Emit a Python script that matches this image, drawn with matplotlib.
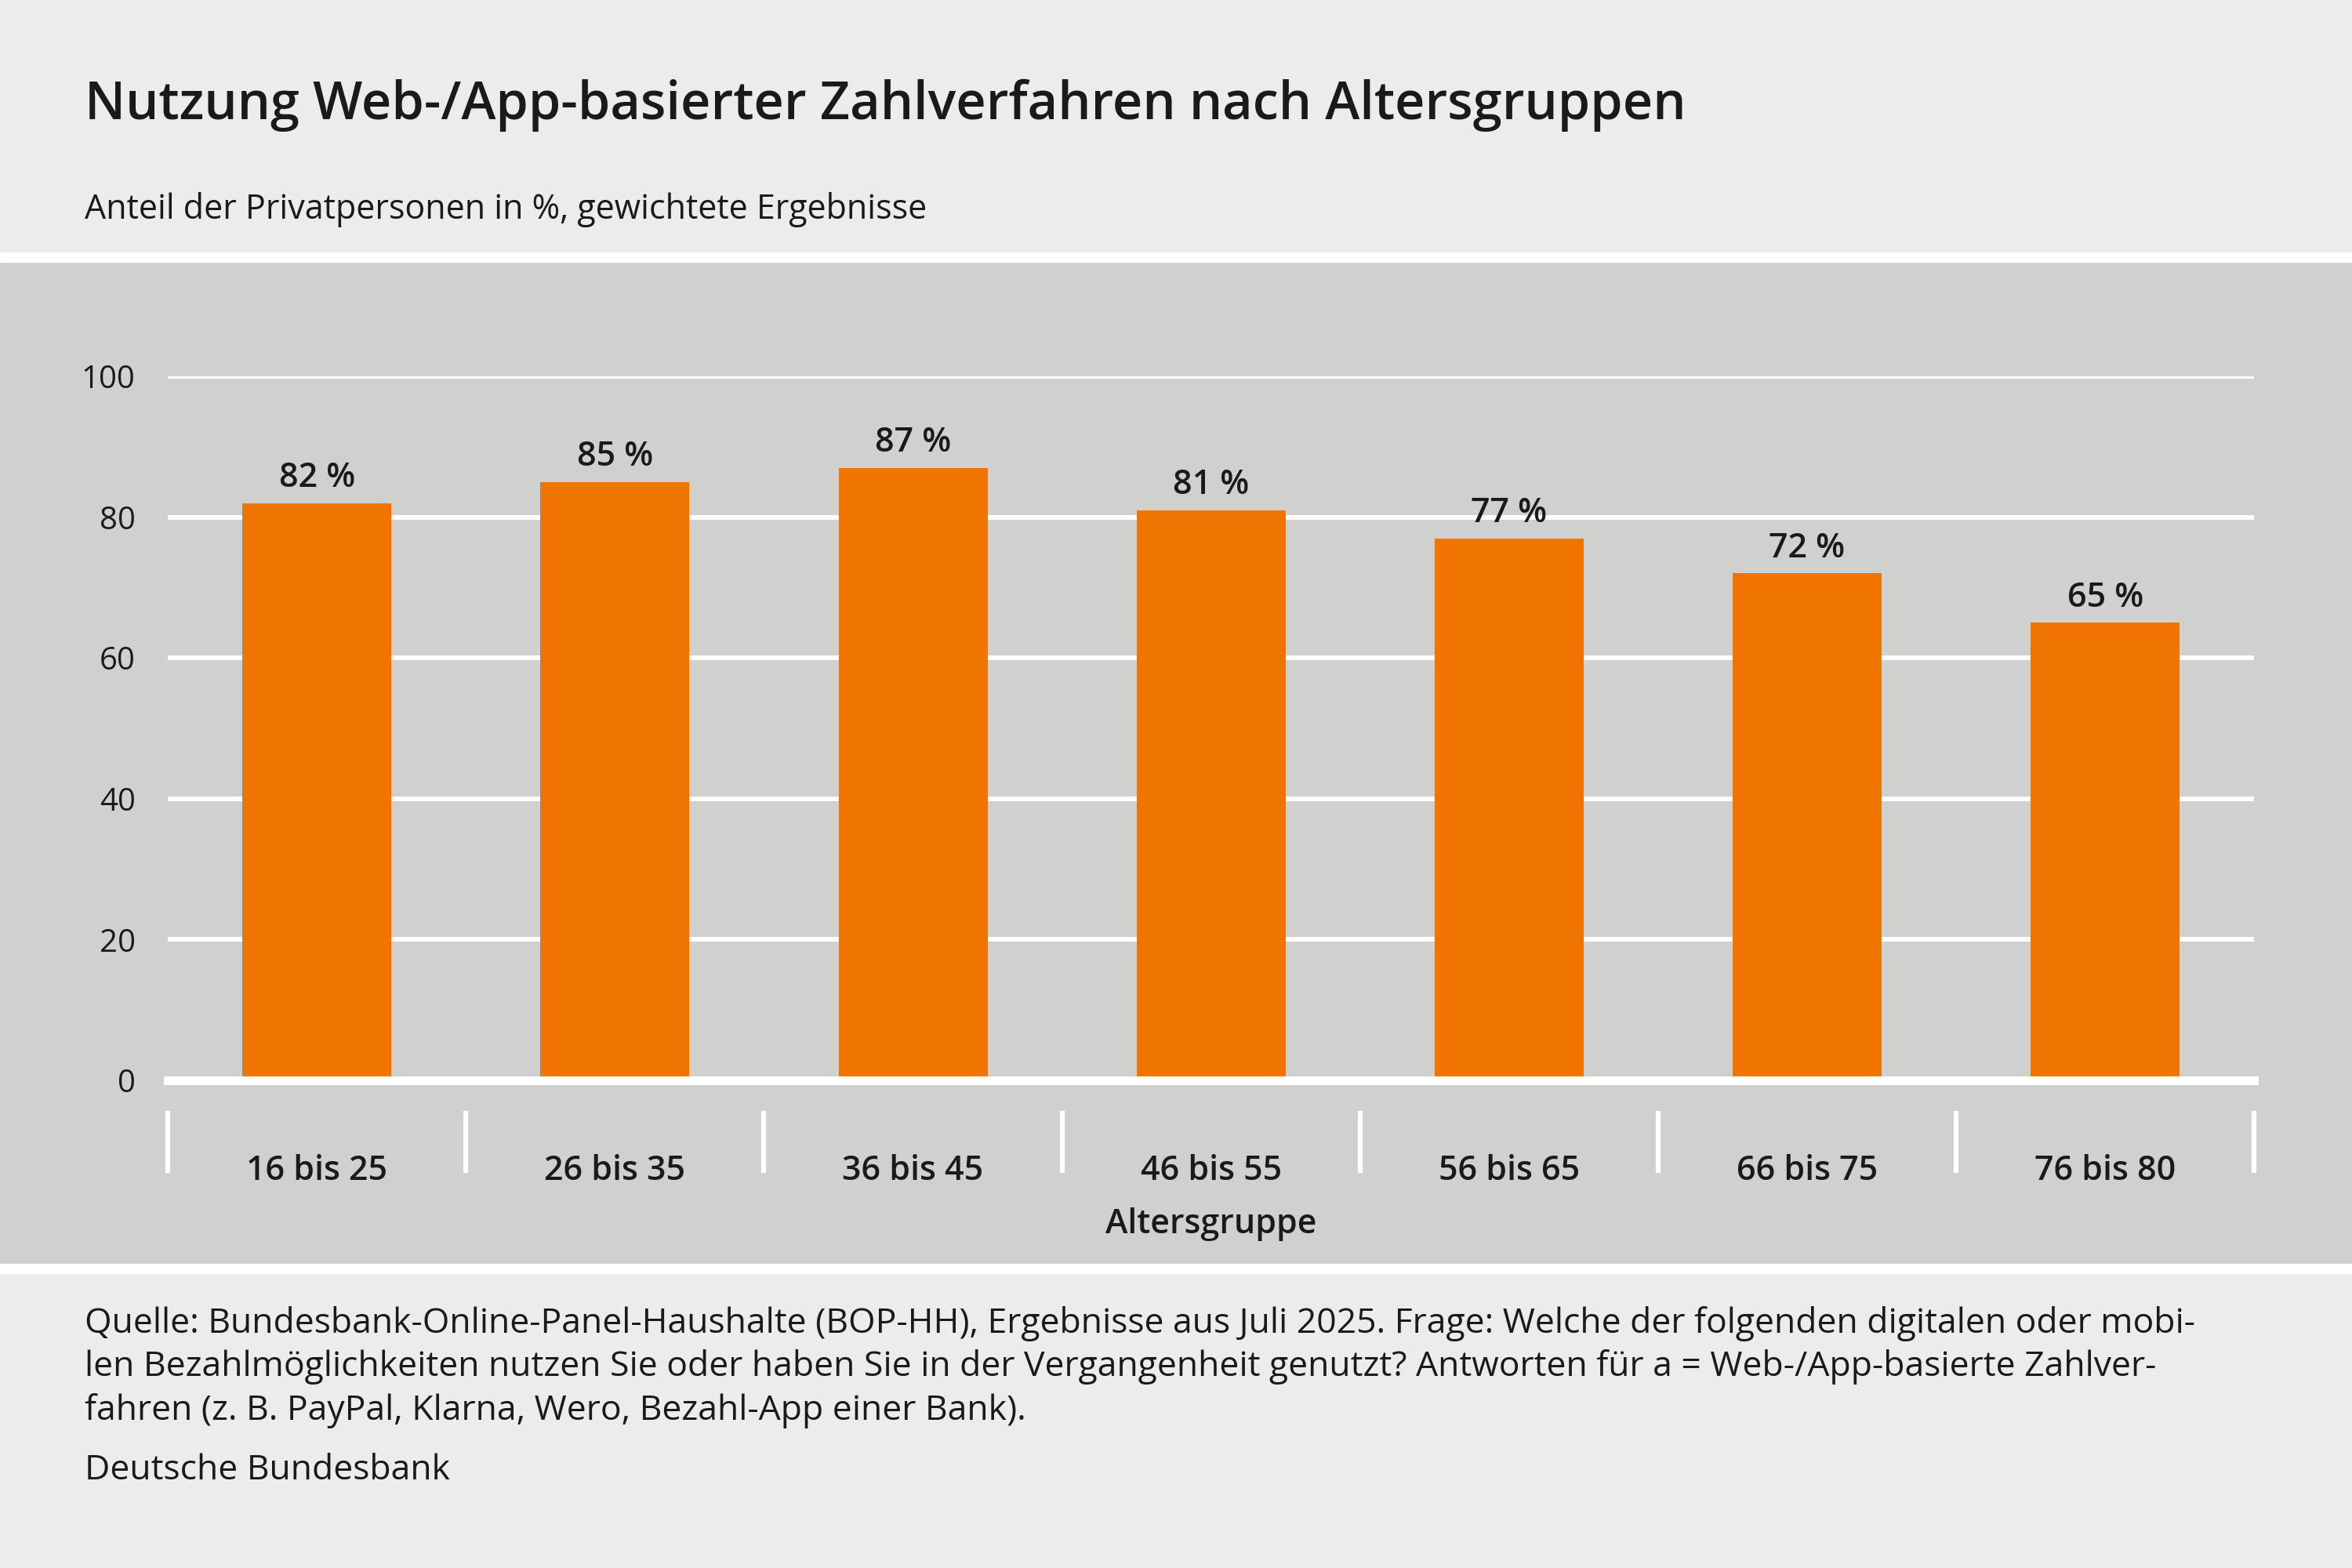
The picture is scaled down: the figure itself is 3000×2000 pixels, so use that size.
import matplotlib.pyplot as plt
import matplotlib.transforms as mtransforms
from matplotlib.patches import Rectangle

plt.rcParams['font.family'] = ['Open Sans', 'DejaVu Sans']

groups = ['16 bis 25', '26 bis 35', '36 bis 45', '46 bis 55', '56 bis 65', '66 bis 75', '76 bis 80']
values = [82, 85, 87, 81, 77, 72, 65]
yticks = [0, 20, 40, 60, 80, 100]

bg = '#ececec'
panel = '#d0d0ce'
orange = '#f07400'
txt = '#1a1a1a'

fig = plt.figure(figsize=(30, 20), dpi=100, facecolor=bg)

# gray panel with white borders
fig.patches.append(Rectangle((0, 0.193), 1, 0.64, transform=fig.transFigure, color=panel, zorder=-5))
fig.patches.append(Rectangle((0, 0.833), 1, 0.006, transform=fig.transFigure, color='white', zorder=-5))
fig.patches.append(Rectangle((0, 0.188), 1, 0.006, transform=fig.transFigure, color='white', zorder=-5))

ax = fig.add_axes([0.0714, 0.311, 0.887, 0.449])
ax.set_zorder(2)
ax.patch.set_alpha(0)
for s in ax.spines.values():
    s.set_visible(False)

x = range(len(groups))
ax.bar(x, values, width=0.5, color=orange, zorder=3)
for xi, v in zip(x, values):
    ax.text(xi, v + 1.2, f'{v} %', ha='center', va='bottom', fontsize=31,
            fontweight='semibold', color=txt, zorder=4)

ax.set_xlim(-0.5, len(groups) - 0.5)
ax.set_ylim(0, 100)
ax.set_yticks(yticks)
ax.yaxis.grid(True, color='white', linewidth=4.3, zorder=1)
ax.set_axisbelow(True)
ax.axhline(0, color='white', linewidth=8, zorder=4, clip_on=False)
ax.tick_params(axis='y', length=0, labelsize=29, labelcolor=txt, pad=30)
ax.set_xticks(list(x))
ax.set_xticklabels(groups, fontsize=31, fontweight='semibold', color=txt)
ax.tick_params(axis='x', length=0, pad=68)
ax.set_xlabel('Altersgruppe', fontsize=31, fontweight='semibold', color=txt, labelpad=18)

trans = mtransforms.blended_transform_factory(ax.transData, ax.transAxes)
for b in [i - 0.5 for i in range(len(groups) + 1)]:
    ax.plot([b, b], [-0.047, -0.128], color='white', linewidth=4.5, transform=trans, clip_on=False)

fig.text(0.036, 0.933, 'Nutzung Web-/App-basierter Zahlverfahren nach Altersgruppen',
         fontsize=48, fontweight='semibold', color=txt, va='center')
fig.text(0.036, 0.866, 'Anteil der Privatpersonen in %, gewichtete Ergebnisse',
         fontsize=31, color=txt, va='center')

footer = ['Quelle: Bundesbank-Online-Panel-Haushalte (BOP-HH), Ergebnisse aus Juli 2025. Frage: Welche der folgenden digitalen oder mobi-',
          'len Bezahlmöglichkeiten nutzen Sie oder haben Sie in der Vergangenheit genutzt? Antworten für a = Web-/App-basierte Zahlver-',
          'fahren (z. B. PayPal, Klarna, Wero, Bezahl-App einer Bank).']
for i, line in enumerate(footer):
    fig.text(0.036, 1 - (882 + 29 * i) / 1045, line, fontsize=32, color=txt, va='center')
fig.text(0.036, 1 - 980 / 1045, 'Deutsche Bundesbank', fontsize=32, color=txt, va='center')

fig.savefig('out.png', facecolor=bg)
